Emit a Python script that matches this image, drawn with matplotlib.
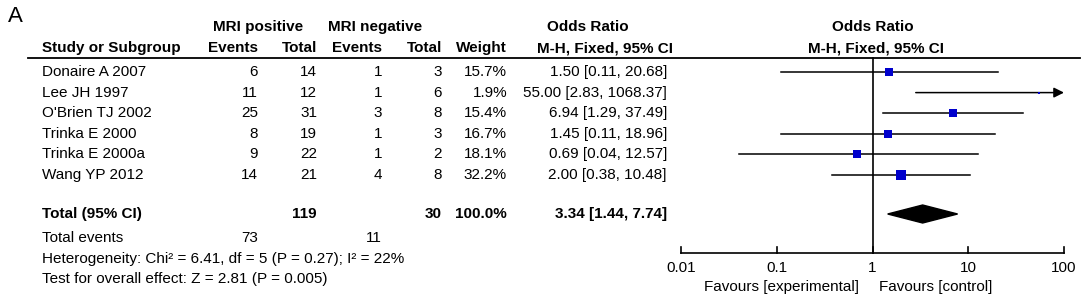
import matplotlib.pyplot as plt
import matplotlib.patches as mpatches

plt.rcParams['font.family'] = ['Liberation Sans', 'DejaVu Sans']

studies = ["Donaire A 2007", "Lee JH 1997", "O'Brien TJ 2002",
           "Trinka E 2000", "Trinka E 2000a", "Wang YP 2012"]
pos_events = [6, 11, 25, 8, 9, 14]
pos_total = [14, 12, 31, 19, 22, 21]
neg_events = [1, 1, 3, 1, 1, 4]
neg_total = [3, 6, 8, 3, 2, 8]
weights = [15.7, 1.9, 15.4, 16.7, 18.1, 32.2]
odds = [1.50, 55.00, 6.94, 1.45, 0.69, 2.00]
ci_low = [0.11, 2.83, 1.29, 0.11, 0.04, 0.38]
ci_high = [20.68, 1068.37, 37.49, 18.96, 12.57, 10.48]

total_or, total_low, total_high = 3.34, 1.44, 7.74
total_pos, total_neg = 119, 30
events_pos, events_neg = 73, 11
heterogeneity = "Heterogeneity: Chi\u00b2 = 6.41, df = 5 (P = 0.27); I\u00b2 = 22%"
overall = "Test for overall effect: Z = 2.81 (P = 0.005)"
ticks = [0.01, 0.1, 1, 10, 100]
tick_labels = ["0.01", "0.1", "1", "10", "100"]

W, H = 1084, 300
y0, step = 72, 20.6
def row(py):
    return (py - y0) / step

fig = plt.figure(figsize=(W / 100, H / 100), dpi=100)
tab = fig.add_axes([0, 0, 1, 1])
tab.set_xlim(0, W)
tab.set_ylim(row(H), row(0))
tab.axis('off')

fs = 11
bold = dict(fontsize=fs, fontweight='bold', va='center')
norm = dict(fontsize=fs, va='center')

tab.text(8, row(16), "A", fontsize=16, va='center')

# headers
tab.text(258, row(27), "MRI positive", ha='center', **bold)
tab.text(375, row(27), "MRI negative", ha='center', **bold)
tab.text(588, row(27), "Odds Ratio", ha='center', **bold)
tab.text(873, row(27), "Odds Ratio", ha='center', **bold)
tab.text(42, row(48), "Study or Subgroup", ha='left', **bold)
for x, s in [(258, "Events"), (317, "Total"), (382, "Events"), (442, "Total"), (507, "Weight")]:
    tab.text(x, row(48), s, ha='right', **bold)
tab.text(605, row(48), "M-H, Fixed, 95% CI", ha='center', **bold)
tab.text(876, row(48), "M-H, Fixed, 95% CI", ha='center', **bold)
tab.plot([28, 1080], [row(57.5), row(57.5)], color='black', lw=1.3)

for i, name in enumerate(studies):
    tab.text(42, i, name, ha='left', **norm)
    tab.text(258, i, str(pos_events[i]), ha='right', **norm)
    tab.text(317, i, str(pos_total[i]), ha='right', **norm)
    tab.text(382, i, str(neg_events[i]), ha='right', **norm)
    tab.text(442, i, str(neg_total[i]), ha='right', **norm)
    tab.text(507, i, f"{weights[i]:.1f}%", ha='right', **norm)
    tab.text(667, i, f"{odds[i]:.2f} [{ci_low[i]:.2f}, {ci_high[i]:.2f}]", ha='right', **norm)

ty = row(214)
tab.text(42, ty, "Total (95% CI)", ha='left', **bold)
tab.text(317, ty, str(total_pos), ha='right', **bold)
tab.text(442, ty, str(total_neg), ha='right', **bold)
tab.text(507, ty, f"{sum(weights):.1f}%", ha='right', **bold)
tab.text(667, ty, f"{total_or:.2f} [{total_low:.2f}, {total_high:.2f}]", ha='right', **bold)

tab.text(42, row(238), "Total events", ha='left', **norm)
tab.text(258, row(238), str(events_pos), ha='right', **norm)
tab.text(382, row(238), str(events_neg), ha='right', **norm)
tab.text(42, row(258.5), heterogeneity, ha='left', **norm)
tab.text(42, row(279), overall, ha='left', **norm)

# forest plot
x_left, x_right = 681, 1064
ax = fig.add_axes([x_left / W, 0, (x_right - x_left) / W, 1])
ax.set_xscale('log')
ax.set_xlim(ticks[0], ticks[-1])
ax.set_ylim(row(H), row(0))
ax.axis('off')

blue = '#0000CC'
for i in range(len(studies)):
    hi = min(ci_high[i], ticks[-1])
    if ci_high[i] > ticks[-1]:
        ax.annotate("", xy=(ticks[-1], i), xytext=(ci_low[i], i),
                    arrowprops=dict(arrowstyle='-|>,head_length=0.6,head_width=0.3',
                                    color='black', lw=1.1, shrinkA=0, shrinkB=0),
                    annotation_clip=False)
    else:
        ax.plot([ci_low[i], hi], [i, i], color='black', lw=1.1, clip_on=False)
    side = 1.9 * weights[i] ** 0.5 * 0.72
    ax.plot(odds[i], i, marker='s', ms=side, color=blue, mec=blue, mew=0, zorder=3)

dh = 9 / step
diamond = mpatches.Polygon([(total_low, ty), (total_or, ty - dh), (total_high, ty), (total_or, ty + dh)],
                           closed=True, color='black')
ax.add_patch(diamond)

axis_y = row(253)
ax.plot([1, 1], [row(57.5), axis_y], color='black', lw=1.2)
ax.plot([ticks[0], ticks[-1]], [axis_y, axis_y], color='black', lw=1.2, clip_on=False)
for t, lab in zip(ticks, tick_labels):
    ax.plot([t, t], [axis_y, axis_y - 6 / step], color='black', lw=1.2, clip_on=False)
    ax.text(t, row(268), lab, ha='center', **norm)
ax.text(0.73, row(287), "Favours [experimental]", ha='right', **norm)
ax.text(1.18, row(287), "Favours [control]", ha='left', **norm)

fig.savefig("out.png", dpi=100)
